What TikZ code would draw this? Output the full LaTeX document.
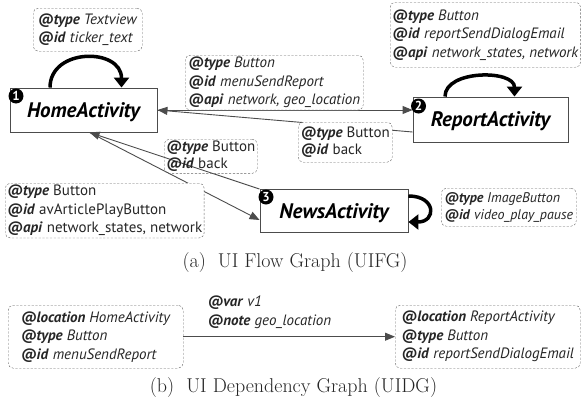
\documentclass[tikz,border=0pt]{standalone}
\usepackage{fontspec}
\newfontfamily\uifont{PT Sans}
\usetikzlibrary{arrows.meta}
\newcommand{\akey}[1]{\textbf{\textit{@#1}}}

\begin{document}
\begin{tikzpicture}[x=1pt, y=-1pt,
  act/.style={draw=black!70, line width=0.9pt, text depth=0pt, font=\uifont\bfseries\itshape\fontsize{21}{23}\selectfont},
  note/.style={draw=black!60, dash pattern=on 2.2pt off 1.6pt, rounded corners=5pt, anchor=north west, align=left,
    inner sep=2pt, fill=white, text=black!85, font=\uifont\fontsize{15}{18.5}\selectfont},
  tight/.style={font=\uifont\fontsize{15}{16.5}\selectfont},
  badge/.style={circle, fill=black, text=white, inner sep=0pt, minimum size=15pt, font=\uifont\bfseries\fontsize{13}{13}\selectfont},
  flow/.style={draw=black!70, line width=0.9pt, -{Triangle[length=10pt, width=8pt]}},
  selfloop/.style={draw=black, line width=3.5pt, -{Triangle[length=10pt, width=15pt]}},
  caption/.style={font=\fontsize{20}{24}\selectfont, text=black!85}
]
\useasboundingbox (0,0) rectangle (581,407);

% Activities
\node[act, minimum width=147pt, minimum height=44pt] (home) at (83.5,110) {HomeActivity};
\node[act, minimum width=155pt, minimum height=45pt] (report) at (490.5,119.5) {ReportActivity};
\node[act, minimum width=148pt, minimum height=43pt] (news) at (334,211) {NewsActivity};

% Transitions
\draw[flow] (home.east) -- (report.west |- home.east);
\draw[flow] ([yshift=-12.5pt]report.west) -- (home.east);
\draw[flow] ([xshift=6pt]home.south) -- ([yshift=-9pt]news.west);
\draw[flow] (news.north west) -- ([xshift=6pt]home.south);

% Self loops
\draw[selfloop] ([xshift=-33.5pt]home.north) .. controls +(0,-40) and +(0,-40) .. ([xshift=38pt]home.north);
\draw[selfloop] ([xshift=-45.5pt]report.north) .. controls +(0,-27) and +(0,-27) .. ([xshift=24pt]report.north);
\draw[selfloop] ([yshift=15pt]news.east) .. controls +(28,0) and +(28,0) .. ([yshift=-11pt]news.east);

% Badges
\node[badge] (b1) at (16,96) {1};
\node[badge] (b2) at (418.5,106) {2};
\node[badge] (b3) at (266,197) {3};

% Widget notes
\node[note, minimum width=109pt, minimum height=43pt] (n_tick) at (33,8)
  {\akey{type} \textit{Textview}\\\akey{id} \textit{ticker\_text}};
\node[note, minimum width=178pt, minimum height=48pt] (n_menu) at (185,55)
  {\akey{type} \textit{Button}\\\akey{id} \textit{menuSendReport}\\\akey{api} \textit{network, geo\_location}};
\node[note, minimum width=190pt, minimum height=65pt] (n_rep) at (390,2)
  {\akey{type} \textit{Button}\\\akey{id} \textit{reportSendDialogEmail}\\\akey{api} \textit{network\_states, network}};
\node[note, tight, minimum width=94pt, minimum height=40pt] (n_back1) at (298,122)
  {\akey{type} Button\\\akey{id} back};
\node[note, tight, fill=none, minimum width=93pt, minimum height=31pt] (n_back2) at (164,139)
  {\akey{type} Button\\\akey{id} back};
\node[note, minimum width=198pt, minimum height=52pt] (n_play) at (5,183)
  {\akey{type} Button\\\akey{id} avArticlePlayButton\\\akey{api} network\_states, network};
\node[note, font=\uifont\fontsize{14}{16.5}\selectfont, minimum width=135pt, minimum height=38pt] (n_img) at (441,188)
  {\akey{type} \textit{ImageButton}\\\akey{id} \textit{video\_play\_pause}};

\node[caption] (cap_a) at (295,263) {(a)\ \ UI Flow Graph (UIFG)};

% Dependency graph
\node[note, minimum width=175pt, minimum height=63pt] (n_loc1) at (8,305)
  {\akey{location} \textit{HomeActivity}\\\akey{type} \textit{Button}\\\akey{id} \textit{menuSendReport}};
\node[note, minimum width=185pt, minimum height=63pt] (n_loc2) at (395,305)
  {\akey{location} \textit{ReportActivity}\\\akey{type} \textit{Button}\\\akey{id} \textit{reportSendDialogEmail}};
\draw[flow] (n_loc1.east) -- (n_loc2.west);
\node[anchor=west, align=left, text=black!85, font=\uifont\fontsize{15}{18.5}\selectfont] (n_var) at (204,312)
  {\akey{var} \textit{v1}\\\akey{note} \textit{geo\_location}};

\node[caption] (cap_b) at (293.5,388) {(b)\ \ UI Dependency Graph (UIDG)};
\end{tikzpicture}
\end{document}
